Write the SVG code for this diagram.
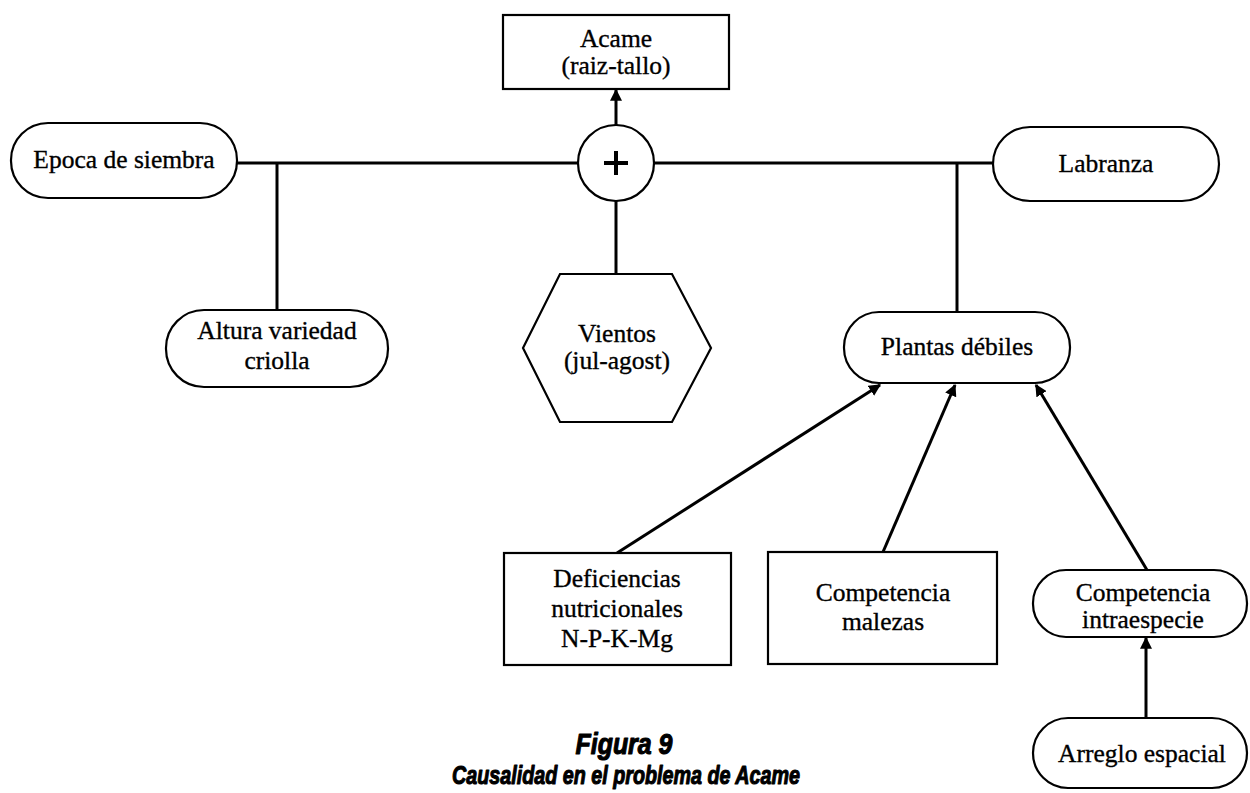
<svg xmlns="http://www.w3.org/2000/svg" width="1250" height="793" viewBox="0 0 1250 793">
<style>
  .n { fill: #fff; stroke: #000; stroke-width: 2.2; }
  .t { font-family: "Liberation Serif", "Times New Roman", serif; font-size: 25.5px; fill: #000; stroke: #000; stroke-width: 0.35; text-anchor: middle; }
  .c { fill: none; stroke: #000; stroke-width: 3; }
  .cap { font-family: "Liberation Sans Narrow", "Liberation Sans", Arial, sans-serif; font-weight: bold; font-style: italic; fill: #000; stroke: #000; stroke-width: 1.1; stroke-linejoin: round; text-anchor: middle; }
</style>
<defs>
  <marker id="ah" viewBox="0 0 10 10" refX="9" refY="5" markerWidth="4" markerHeight="4" orient="auto" markerUnits="strokeWidth">
    <path d="M0,0 L10,5 L0,10 z" fill="#000"/>
  </marker>
</defs>
<rect width="1250" height="793" fill="#fff"/>
<g id="connectors">
  <line class="c" x1="237" y1="163" x2="578" y2="163"/>
  <line class="c" x1="654" y1="163" x2="993" y2="163"/>
  <line class="c" x1="277" y1="163" x2="277" y2="310"/>
  <line class="c" x1="957" y1="163" x2="957" y2="312"/>
  <line class="c" x1="616" y1="201" x2="616" y2="274"/>
  <line class="c" x1="616" y1="125" x2="616" y2="90" marker-end="url(#ah)"/>
  <line class="c" x1="617" y1="553" x2="880" y2="385" marker-end="url(#ah)"/>
  <line class="c" x1="883" y1="552" x2="955" y2="385" marker-end="url(#ah)"/>
  <line class="c" x1="1147" y1="570" x2="1036" y2="385" marker-end="url(#ah)"/>
  <line class="c" x1="1146" y1="718" x2="1146" y2="638" marker-end="url(#ah)"/>
</g>
<g id="acame">
  <rect class="n" x="503" y="15" width="226" height="74"/>
  <text class="t" x="616" y="47">Acame</text>
  <text class="t" x="616" y="74">(raiz-tallo)</text>
</g>
<g id="suma">
  <circle class="n" cx="616" cy="163" r="38"/>
  <path d="M616,151 V175 M604,163 H628" stroke="#000" stroke-width="4"/>
</g>
<g id="epoca">
  <rect class="n" x="11" y="123" width="226" height="75" rx="37" ry="37"/>
  <text class="t" x="124" y="168">Epoca de siembra</text>
</g>
<g id="labranza">
  <rect class="n" x="993" y="127" width="226" height="74" rx="37" ry="37"/>
  <text class="t" x="1106" y="172">Labranza</text>
</g>
<g id="altura">
  <rect class="n" x="166" y="310" width="222" height="77" rx="38" ry="38"/>
  <text class="t" x="277" y="339">Altura variedad</text>
  <text class="t" x="277" y="369">criolla</text>
</g>
<g id="vientos">
  <polygon class="n" points="560,274 672,274 711,348 672,422 560,422 523,348"/>
  <text class="t" x="617" y="342">Vientos</text>
  <text class="t" x="617" y="369">(jul-agost)</text>
</g>
<g id="plantas">
  <rect class="n" x="844" y="312" width="226" height="71" rx="35" ry="35"/>
  <text class="t" x="957" y="355">Plantas débiles</text>
</g>
<g id="deficiencias">
  <rect class="n" x="504" y="553" width="227" height="112"/>
  <text class="t" x="617" y="587">Deficiencias</text>
  <text class="t" x="617" y="617">nutricionales</text>
  <text class="t" x="617" y="647">N-P-K-Mg</text>
</g>
<g id="malezas">
  <rect class="n" x="768" y="552" width="229" height="112"/>
  <text class="t" x="883" y="601">Competencia</text>
  <text class="t" x="883" y="630">malezas</text>
</g>
<g id="intraespecie">
  <rect class="n" x="1033" y="570" width="214" height="67" rx="33" ry="33"/>
  <text class="t" x="1143" y="601">Competencia</text>
  <text class="t" x="1143" y="628">intraespecie</text>
</g>
<g id="arreglo">
  <rect class="n" x="1033" y="718" width="214" height="70" rx="35" ry="35"/>
  <text class="t" x="1142" y="762">Arreglo espacial</text>
</g>
<g id="caption">
  <text class="cap" x="624" y="754" font-size="29" textLength="97" lengthAdjust="spacingAndGlyphs">Figura 9</text>
  <text class="cap" x="626" y="784" font-size="26" textLength="348" lengthAdjust="spacingAndGlyphs">Causalidad en el problema de Acame</text>
</g>
</svg>
